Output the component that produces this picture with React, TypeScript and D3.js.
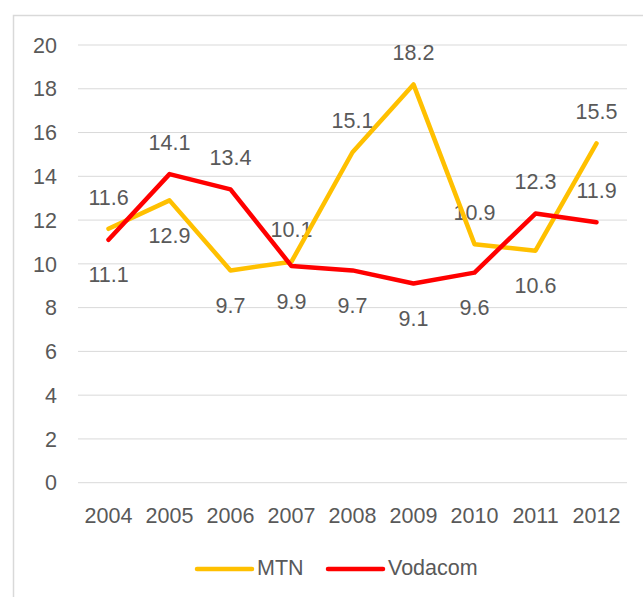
import React, { useEffect, useRef } from "react";
import * as d3 from "d3";

const years = ["2004", "2005", "2006", "2007", "2008", "2009", "2010", "2011", "2012"];
const mtn = [11.6, 12.9, 9.7, 10.1, 15.1, 18.2, 10.9, 10.6, 15.5];
const vodacom = [11.1, 14.1, 13.4, 9.9, 9.7, 9.1, 9.6, 12.3, 11.9];
// where each data label sits: 1 = above the point, -1 = below
const mtnLabelPos = [1, -1, -1, 1, 1, 1, 1, -1, 1];
const vodacomLabelPos = [-1, 1, 1, -1, -1, -1, -1, 1, 1];
const yTicks = [0, 2, 4, 6, 8, 10, 12, 14, 16, 18, 20];

export default function App() {
  const ref = useRef<HTMLDivElement | null>(null);

  useEffect(() => {
    if (!ref.current) return;
    d3.select(ref.current).selectAll("svg").remove();

    const width = 643;
    const height = 597;
    const font = "'Liberation Sans', Arial, sans-serif";
    const fontSize = 21.5;
    const textColor = "#595959";

    const x = d3.scaleBand().domain(years).range([78, 627]);
    const y = d3.scaleLinear().domain([0, 20]).range([482.7, 45]);

    const svg = d3
      .select(ref.current)
      .append("svg")
      .attr("width", width)
      .attr("height", height)
      .style("display", "block");

    svg.append("rect").attr("width", width).attr("height", height).attr("fill", "#fff");

    // chart area border (runs off the right and bottom edges)
    svg
      .append("rect")
      .attr("x", 13.5)
      .attr("y", 15.5)
      .attr("width", 700)
      .attr("height", 700)
      .attr("fill", "none")
      .attr("stroke", "#d9d9d9")
      .attr("stroke-width", 1.5);

    // gridlines
    svg
      .append("g")
      .selectAll("line")
      .data(yTicks)
      .join("line")
      .attr("x1", 78)
      .attr("x2", 627)
      .attr("y1", (d) => y(d))
      .attr("y2", (d) => y(d))
      .attr("stroke", "#d9d9d9")
      .attr("stroke-width", 1);

    const labels = svg
      .append("g")
      .attr("font-family", font)
      .attr("font-size", fontSize)
      .attr("fill", textColor);

    labels
      .selectAll("text.ytick")
      .data(yTicks)
      .join("text")
      .attr("class", "ytick")
      .attr("text-anchor", "end")
      .attr("x", 57)
      .attr("y", (d) => y(d) + 7.7)
      .text((d) => d);

    labels
      .selectAll("text.xtick")
      .data(years)
      .join("text")
      .attr("class", "xtick")
      .attr("text-anchor", "middle")
      .attr("x", (d) => x(d)! + x.bandwidth() / 2)
      .attr("y", 523)
      .text((d) => d);

    const series = [
      { name: "MTN", values: mtn, pos: mtnLabelPos, color: "#FFC000" },
      { name: "Vodacom", values: vodacom, pos: vodacomLabelPos, color: "#FF0000" },
    ];

    const line = d3
      .line<number>()
      .x((_, i) => x(years[i])! + x.bandwidth() / 2)
      .y((d) => y(d));

    series.forEach((s) => {
      svg
        .append("path")
        .attr("d", line(s.values))
        .attr("fill", "none")
        .attr("stroke", s.color)
        .attr("stroke-width", 4.5)
        .attr("stroke-linejoin", "round")
        .attr("stroke-linecap", "round");
    });

    series.forEach((s) => {
      labels
        .append("g")
        .selectAll("text")
        .data(s.values)
        .join("text")
        .attr("text-anchor", "middle")
        .attr("x", (_, i) => x(years[i])! + x.bandwidth() / 2)
        .attr("y", (d, i) => y(d) + (s.pos[i] > 0 ? -32 : 35) + 7.7)
        .text((d) => d.toFixed(1));
    });

    // legend
    const legend = svg.append("g");
    const legendItems = [
      { name: "MTN", color: "#FFC000", x0: 197 },
      { name: "Vodacom", color: "#FF0000", x0: 328 },
    ];
    legendItems.forEach((l) => {
      legend
        .append("line")
        .attr("x1", l.x0)
        .attr("x2", l.x0 + 55)
        .attr("y1", 569)
        .attr("y2", 569)
        .attr("stroke", l.color)
        .attr("stroke-width", 4.5)
        .attr("stroke-linecap", "round");
      legend
        .append("text")
        .attr("x", l.x0 + 60)
        .attr("y", 575)
        .attr("font-family", font)
        .attr("font-size", fontSize)
        .attr("fill", textColor)
        .text(l.name);
    });
  }, []);

  return <div ref={ref} style={{ position: "absolute", left: 0, top: 0 }}></div>;
}
